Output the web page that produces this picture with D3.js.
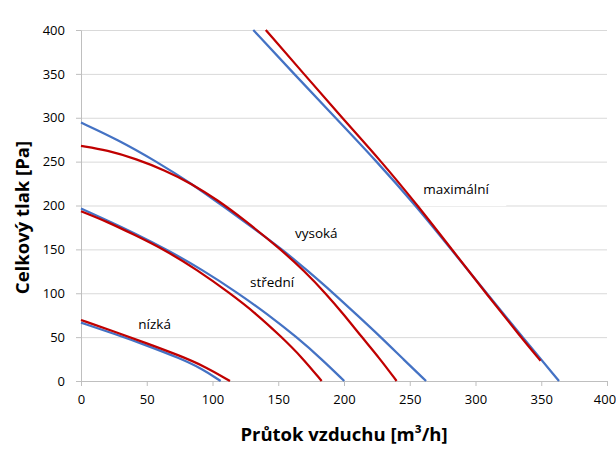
<!DOCTYPE html>
<html>
<head>
<meta charset="utf-8">
<script src="https://cdn.jsdelivr.net/npm/d3@7"></script>
<style>
  body { margin: 0; background: #fff; }
  svg text { font-family: "Open Sans", Lato, sans-serif; fill: #000; }
</style>
</head>
<body>
<script>
// tick values for both axes
const flowTicks = [0, 50, 100, 150, 200, 250, 300, 350, 400];
const pressTicks = [0, 50, 100, 150, 200, 250, 300, 350, 400];

// fan curves: flow [m3/h] and pressure [Pa]
// maximální
const maxBlueQ = [131, 162, 193.5, 225, 254.5, 281.5, 308.5, 335.8, 363.5];
const maxBlueP = [400, 350, 300, 250, 200, 150, 100, 50, 0];
const maxRedQ = [140.5, 169.5, 198.5, 228.5, 256, 282, 308, 334.5, 349.5];
const maxRedP = [400, 350, 300, 250, 200, 150, 100, 50, 23];
// vysoká
const highBlueQ = [0, 28, 57.5, 84, 110, 133, 153, 172, 192, 210, 228, 245, 262.4];
const highBlueP = [294.5, 275, 250, 225, 197, 172, 150, 126, 100, 75, 50, 25, 0];
const highRedQ = [0, 20, 42, 64, 84, 104, 123, 152, 170, 186, 200, 213, 227, 240];
const highRedP = [268, 263, 253, 240, 225, 206, 185, 150, 125, 100, 75.5, 51, 26, 0];
// střední
const midBlueQ = [0, 20, 40, 65, 92, 119.6, 142, 164, 183, 200.2];
const midBlueP = [196.5, 183, 169, 150, 127, 100, 76, 50, 25, 0];
const midRedQ = [0, 20, 40, 63, 88, 113.3, 133, 152.6, 168, 183];
const midRedP = [193.5, 181.5, 167, 150, 127, 100, 77, 50, 27, 0];
// nízká
const lowBlueQ = [0, 25, 50, 75, 92, 106.2];
const lowBlueP = [66.5, 54, 40.5, 26, 14, 0];
const lowRedQ = [0, 25, 50, 75, 95, 113.3];
const lowRedP = [69.5, 56.5, 43, 29, 16, 0];

// curve labels and where they sit (data coords, left/baseline)
const labelNames = ['maximální', 'vysoká', 'střední', 'nízká'];
const labelQ = [260.3, 162.7, 128.5, 43.6];
const labelP = [213, 162.6, 106.8, 58.9];

const blue = '#4472c4';
const red = '#c00000';

const width = 616, height = 451;
const margin = {top: 30, right: 9, bottom: 70, left: 81};

const x = d3.scaleLinear().domain([0, 400]).range([margin.left, width - margin.right]);
const y = d3.scaleLinear().domain([0, 400]).range([height - margin.bottom, margin.top]);

const svg = d3.select('body').append('svg')
  .attr('width', width)
  .attr('height', height);

// horizontal gridlines
svg.append('g')
  .attr('transform', `translate(${margin.left},0)`)
  .call(d3.axisLeft(y).tickValues(pressTicks.slice(1)).tickSize(-(x(400) - x(0))).tickFormat(''))
  .call(g => g.select('.domain').remove())
  .selectAll('line').attr('stroke', '#d9d9d9');

// white box behind the "maximální" label hides part of the gridline
svg.append('rect')
  .attr('x', x(260.3) - 3)
  .attr('y', y(213) - 20)
  .attr('width', 86)
  .attr('height', 32)
  .attr('fill', '#fff');

// axes
const yAxis = svg.append('g')
  .attr('transform', `translate(${margin.left},0)`)
  .call(d3.axisLeft(y).tickValues(pressTicks).tickSize(5).tickPadding(11).tickSizeOuter(0));
const xAxis = svg.append('g')
  .attr('transform', `translate(0,${y(0)})`)
  .call(d3.axisBottom(x).tickValues(flowTicks).tickSize(5).tickPadding(9).tickSizeOuter(0));

[yAxis, xAxis].forEach(a => {
  a.select('.domain').attr('stroke', '#bfbfbf');
  a.selectAll('.tick line').attr('stroke', '#bfbfbf');
  a.selectAll('text').attr('font-size', 13).attr('font-family', '"Open Sans", sans-serif').attr('fill', '#000');
});
// last label sits right on the edge, pull it in a bit
xAxis.selectAll('.tick text').filter(d => d === 400).attr('dx', -2.5);

// curves
const line = d3.line()
  .x(d => x(d[0]))
  .y(d => y(d[1]))
  .curve(d3.curveBasis);

const series = [
  [maxBlueQ, maxBlueP, blue], [highBlueQ, highBlueP, blue],
  [midBlueQ, midBlueP, blue], [lowBlueQ, lowBlueP, blue],
  [maxRedQ, maxRedP, red], [highRedQ, highRedP, red],
  [midRedQ, midRedP, red], [lowRedQ, lowRedP, red]
];

series.forEach(s => {
  const pts = s[0].map((q, i) => [q, s[1][i]]);
  svg.append('path')
    .datum(pts)
    .attr('d', line)
    .attr('fill', 'none')
    .attr('stroke', s[2])
    .attr('stroke-width', 2.25);
});

// curve labels
svg.append('g')
  .selectAll('text')
  .data(labelNames)
  .join('text')
  .attr('x', (d, i) => x(labelQ[i]))
  .attr('y', (d, i) => y(labelP[i]))
  .attr('font-size', 13.5)
  .text(d => d);

// axis titles
svg.append('text')
  .attr('x', (x(0) + x(400)) / 2)
  .attr('y', 441)
  .attr('text-anchor', 'middle')
  .attr('font-size', 18.5)
  .attr('font-weight', 'bold')
  .text('Průtok vzduchu [m³/h]');

svg.append('text')
  .attr('transform', 'translate(29,217.5) rotate(-90)')
  .attr('text-anchor', 'middle')
  .attr('font-size', 18.5)
  .attr('font-weight', 'bold')
  .text('Celkový tlak [Pa]');
</script>
</body>
</html>
